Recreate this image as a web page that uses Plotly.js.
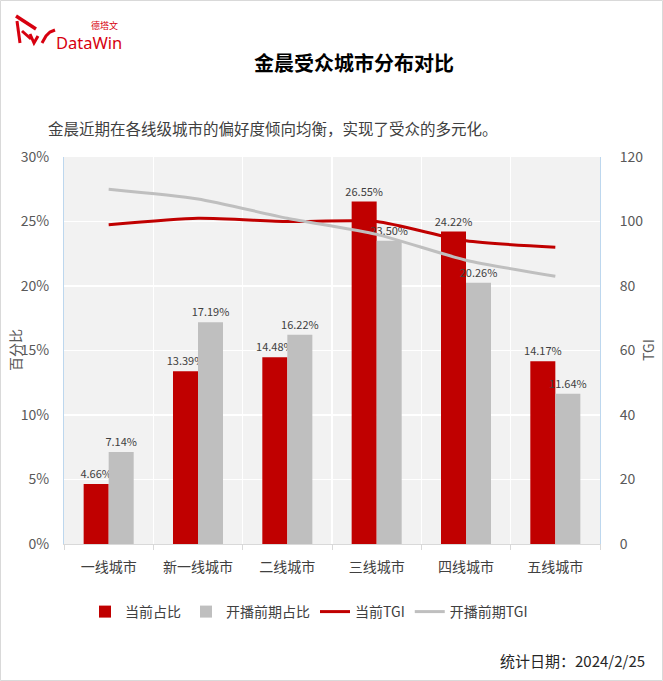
<!DOCTYPE html>
<html>
<head>
<meta charset="utf-8">
<script src="https://cdn.plot.ly/plotly-3.0.1.min.js"></script>
<style>
  html, body { margin: 0; padding: 0; background: #ffffff; }
  #chart { width: 663px; height: 681px; }
</style>
</head>
<body>
<div id="chart"></div>
<script>
// ---- data ----
const categories = ['一线城市', '新一线城市', '二线城市', '三线城市', '四线城市', '五线城市'];
const currentShare = [0.0466, 0.1339, 0.1448, 0.2655, 0.2422, 0.1417];
const preShare = [0.0714, 0.1719, 0.1622, 0.2350, 0.2026, 0.1164];
const currentTGI = [99, 101, 100, 100, 94, 92];
const preTGI = [110, 107, 101, 96, 88, 83];
const seriesNames = ['当前占比', '开播前期占比', '当前TGI', '开播前期TGI'];
const yTicks = [0, 0.05, 0.10, 0.15, 0.20, 0.25, 0.30];
const y2Ticks = [0, 20, 40, 60, 80, 100, 120];

// ---- page geometry helpers (page pixel -> paper) ----
const W = 663, H = 681;
const M = { l: 64, r: 63, t: 157, b: 137 };
const PW = W - M.l - M.r, PH = H - M.t - M.b;
const px = x => (x - M.l) / PW;
const py = y => (H - M.b - y) / PH;

const FONT = '"Noto Sans CJK SC", "Noto Sans", sans-serif';
const RED = '#c00000';
const GRAY = '#bfbfbf';
const LOGO = '#d7000f';

const traces = [
  {
    type: 'bar', name: seriesNames[0], x: categories, y: currentShare,
    marker: { color: RED },
    texttemplate: '%{y:.2%}', textposition: 'outside', constraintext: 'none',
    textfont: { family: FONT, size: 11, color: '#404040' }, cliponaxis: false,
    hoverinfo: 'skip'
  },
  {
    type: 'bar', name: seriesNames[1], x: categories, y: preShare,
    marker: { color: GRAY },
    texttemplate: '%{y:.2%}', textposition: 'outside', constraintext: 'none',
    textfont: { family: FONT, size: 11, color: '#404040' }, cliponaxis: false,
    hoverinfo: 'skip'
  },
  {
    type: 'scatter', mode: 'lines', name: seriesNames[2], x: categories, y: currentTGI,
    yaxis: 'y2', line: { color: RED, width: 3, shape: 'spline', smoothing: 0.6 },
    hoverinfo: 'skip'
  },
  {
    type: 'scatter', mode: 'lines', name: seriesNames[3], x: categories, y: preTGI,
    yaxis: 'y2', line: { color: GRAY, width: 3, shape: 'spline', smoothing: 0.6 },
    hoverinfo: 'skip'
  }
];

// logo path in page pixels -> pixel-sized shape path (y up)
function logoPath(pts) {
  return pts.map((p, i) => (i === 0 ? 'M' : 'L') + p[0] + ',' + (-p[1])).join(' ');
}
function logoShape(pts, w) {
  return {
    type: 'path', xref: 'paper', yref: 'paper',
    xsizemode: 'pixel', ysizemode: 'pixel',
    xanchor: px(0), yanchor: py(0),
    path: logoPath(pts),
    line: { color: LOGO, width: w }
  };
}

const shapes = [
  // outer border
  {
    type: 'rect', xref: 'paper', yref: 'paper',
    x0: px(0.5), x1: px(662.5), y0: py(680.5), y1: py(0.5),
    line: { color: '#d9d9d9', width: 1 }, fillcolor: 'rgba(0,0,0,0)', layer: 'below'
  },
  logoShape([[16, 16], [36, 29]], 3.5),
  logoShape([[17, 21], [20, 43]], 3),
  logoShape([[22, 31], [31, 39]], 3),
  logoShape([[30, 34], [34, 43], [38, 36]], 3),
  logoShape([[42, 43], [46, 36], [50, 32], [55, 30]], 3)
];

const annotations = [
  {
    text: '<b>金晨受众城市分布对比</b>', xref: 'paper', yref: 'paper',
    x: px(354), y: py(62), xanchor: 'center', yanchor: 'middle', showarrow: false,
    font: { family: FONT, size: 20, color: '#000000' }
  },
  {
    text: '金晨近期在各线级城市的偏好度倾向均衡，实现了受众的多元化。', xref: 'paper', yref: 'paper',
    x: px(46), y: py(128), xanchor: 'left', yanchor: 'middle', showarrow: false,
    font: { family: FONT, size: 15.5, color: '#404040' }
  },
  {
    text: '统计日期：2024/2/25', xref: 'paper', yref: 'paper',
    x: px(647), y: py(660), xanchor: 'right', yanchor: 'middle', showarrow: false,
    font: { family: FONT, size: 15, color: '#262626' }
  },
  {
    text: '德塔文', xref: 'paper', yref: 'paper',
    x: px(104), y: py(25), xanchor: 'center', yanchor: 'middle', showarrow: false,
    font: { family: FONT, size: 9, color: LOGO }
  },
  {
    text: 'DataWin', xref: 'paper', yref: 'paper',
    x: px(54), y: py(42.5), xanchor: 'left', yanchor: 'middle', showarrow: false,
    font: { family: '"Noto Sans", sans-serif', size: 16.5, color: LOGO }
  },
  {
    text: '百分比', xref: 'paper', yref: 'paper', textangle: -90,
    x: px(15), y: py(350), xanchor: 'center', yanchor: 'middle', showarrow: false,
    font: { family: FONT, size: 14, color: '#595959' }
  },
  {
    text: 'TGI', xref: 'paper', yref: 'paper', textangle: -90,
    x: px(648), y: py(350), xanchor: 'center', yanchor: 'middle', showarrow: false,
    font: { family: FONT, size: 14, color: '#595959' }
  }
];

const layout = {
  width: W, height: H,
  margin: M,
  paper_bgcolor: '#ffffff',
  plot_bgcolor: '#f2f2f2',
  font: { family: FONT, color: '#595959', size: 14 },
  barmode: 'group',
  bargap: 0.44,
  bargroupgap: 0,
  showlegend: true,
  legend: {
    orientation: 'h', x: px(309), xanchor: 'center', y: py(612), yanchor: 'middle',
    font: { family: FONT, size: 14, color: '#404040' },
    bgcolor: 'rgba(0,0,0,0)', traceorder: 'normal'
  },
  xaxis: {
    type: 'category',
    tickson: 'boundaries',
    ticks: 'outside', ticklen: 5, tickcolor: '#d9d9d9', tickwidth: 1,
    showline: true, linecolor: '#d9d9d9', linewidth: 1,
    showgrid: true, gridcolor: '#ffffff', gridwidth: 1.5,
    tickfont: { family: FONT, size: 14, color: '#404040' },
    ticklabelstandoff: 10,
    fixedrange: true
  },
  yaxis: {
    range: [0, 0.30], tickvals: yTicks, tickformat: '.0%',
    showgrid: true, gridcolor: '#ffffff', gridwidth: 1.5,
    zeroline: false, showline: true, linecolor: '#bdd7ee', linewidth: 1,
    ticks: '', ticklabelstandoff: 11,
    tickfont: { family: FONT, size: 14, color: '#595959' },
    fixedrange: true
  },
  yaxis2: {
    range: [0, 120], tickvals: y2Ticks, overlaying: 'y', side: 'right',
    showgrid: false, zeroline: false, showline: true, linecolor: '#bdd7ee', linewidth: 1,
    ticks: '', ticklabelstandoff: 16,
    tickfont: { family: FONT, size: 14, color: '#595959' },
    fixedrange: true
  },
  shapes: shapes,
  annotations: annotations
};

Plotly.newPlot('chart', traces, layout, { displayModeBar: false, staticPlot: true });
</script>
</body>
</html>
